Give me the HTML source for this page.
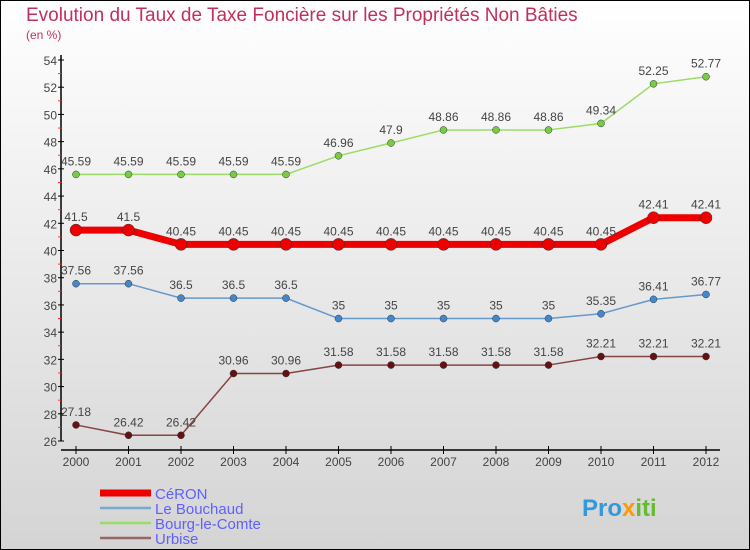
<!DOCTYPE html>
<html><head><meta charset="utf-8"><style>
html,body{margin:0;padding:0}
body{width:750px;height:550px;overflow:hidden;font-family:"Liberation Sans",sans-serif}
svg{display:block}
</style></head><body>
<svg id="chart" width="750" height="550" xmlns="http://www.w3.org/2000/svg">
<defs><linearGradient id="bg" x1="0" y1="0" x2="0" y2="1"><stop offset="0" stop-color="#ffffff"/><stop offset="1" stop-color="#d4d4d4"/></linearGradient></defs>
<rect x="0.5" y="0.5" width="749" height="549" fill="url(#bg)" stroke="#000"/>
<text x="26" y="21" font-size="19" fill="#c0305a">Evolution du Taux de Taxe Foncière sur les Propriétés Non Bâties</text>
<text x="26" y="39" font-size="12" fill="#c0305a">(en %)</text>
<g id="axes"></g>
<g id="series"></g>
<g id="legend"></g>
<text x="582" y="516" font-size="24" font-weight="bold" fill="#3399dd">Pro<tspan fill="#ff9900">x</tspan><tspan fill="#66bb33">iti</tspan></text>
</svg>
<script>
const years = [2000,2001,2002,2003,2004,2005,2006,2007,2008,2009,2010,2011,2012];
const yTicks = [26,28,30,32,34,36,38,40,42,44,46,48,50,52,54];
const seriesNames = ["CéRON","Le Bouchaud","Bourg-le-Comte","Urbise"];
const ceron = [41.5,41.5,40.45,40.45,40.45,40.45,40.45,40.45,40.45,40.45,40.45,42.41,42.41];
const bouchaud = [37.56,37.56,36.5,36.5,36.5,35,35,35,35,35,35.35,36.41,36.77];
const bourg = [45.59,45.59,45.59,45.59,45.59,46.96,47.9,48.86,48.86,48.86,49.34,52.25,52.77];
const urbise = [27.18,26.42,26.42,30.96,30.96,31.58,31.58,31.58,31.58,31.58,32.21,32.21,32.21];

const NS="http://www.w3.org/2000/svg";
const X0=76,X1=706,YT=60,YB=441,VMIN=26,VMAX=54;
const xs=i=>X0+(X1-X0)*i/(years.length-1);
const ys=v=>YB-(v-VMIN)/(VMAX-VMIN)*(YB-YT);
function mk(tag,attrs,parent,text){const e=document.createElementNS(NS,tag);for(const k in attrs)e.setAttribute(k,attrs[k]);if(text!==undefined)e.textContent=text;parent.appendChild(e);return e;}
const axes=document.getElementById('axes');
let e=mk('line',{x1:61,y1:YT-5,x2:61,y2:YB,stroke:'#000','stroke-width':1.5},axes);


e=mk('line',{x1:61,y1:450,x2:720,y2:450,stroke:'#000','stroke-width':1.5},axes);


yTicks.forEach(t=>{const y=ys(t);
 mk('line',{x1:58,y1:y,x2:64,y2:y,stroke:'#000'},axes);
 if(t<VMAX)mk('line',{x1:58,y1:ys(t+1),x2:61,y2:ys(t+1),stroke:'#f33'},axes);
 const l=mk('text',{x:57,y:y+5,'font-size':12,fill:'#444','text-anchor':'end'},axes,String(t));
 
 
});
years.forEach((yr,i)=>{const x=xs(i);
 mk('line',{x1:x,y1:446,x2:x,y2:454,stroke:'#000'},axes);
 const l=mk('text',{x:x,y:466,'font-size':12,fill:'#444','text-anchor':'middle'},axes,String(yr));
 
 
});
const sg=document.getElementById('series');
const defs=[[bourg,'#99dd66','#77cc44',1.5,3.5,'bourg-le-comte'],[bouchaud,'#6699cc','#4488cc',1.5,3.5,'le-bouchaud'],[urbise,'#884444','#661111',1.5,3.5,'urbise'],[ceron,'#ee0000','#ee0000',7,6,'ceron']];
defs.forEach(([data,lc,pc,w,r,name])=>{
 const g=mk('g',{},sg);
 
 
 const p=mk('polyline',{points:data.map((v,i)=>xs(i)+','+ys(v)).join(' '),fill:'none',stroke:lc,'stroke-width':w,'stroke-linejoin':'round'},g);
 
 
 data.forEach((v,i)=>{
  const c=mk('circle',{cx:xs(i),cy:ys(v),r:r,fill:pc,stroke:'#333','stroke-width':0.5},g);
  
  
  const t=mk('text',{x:xs(i),y:ys(v)-9,'font-size':12,fill:'#444','text-anchor':'middle'},g,String(v));
  
  
 });
});
const lg=document.getElementById('legend');
const lcol=['#ee0000','#77aacc','#99dd66','#996666'],lw=[7,2.5,2.5,2.5];
seriesNames.forEach((n,i)=>{const y=493+i*15;
 const g=mk('g',{},lg);
 
 
 mk('line',{x1:100,y1:y,x2:151,y2:y,stroke:lcol[i],'stroke-width':lw[i]},g);
 mk('text',{x:155,y:y+6,'font-size':15,fill:'#6060ff'},g,n);
});
</script>
</body></html>
